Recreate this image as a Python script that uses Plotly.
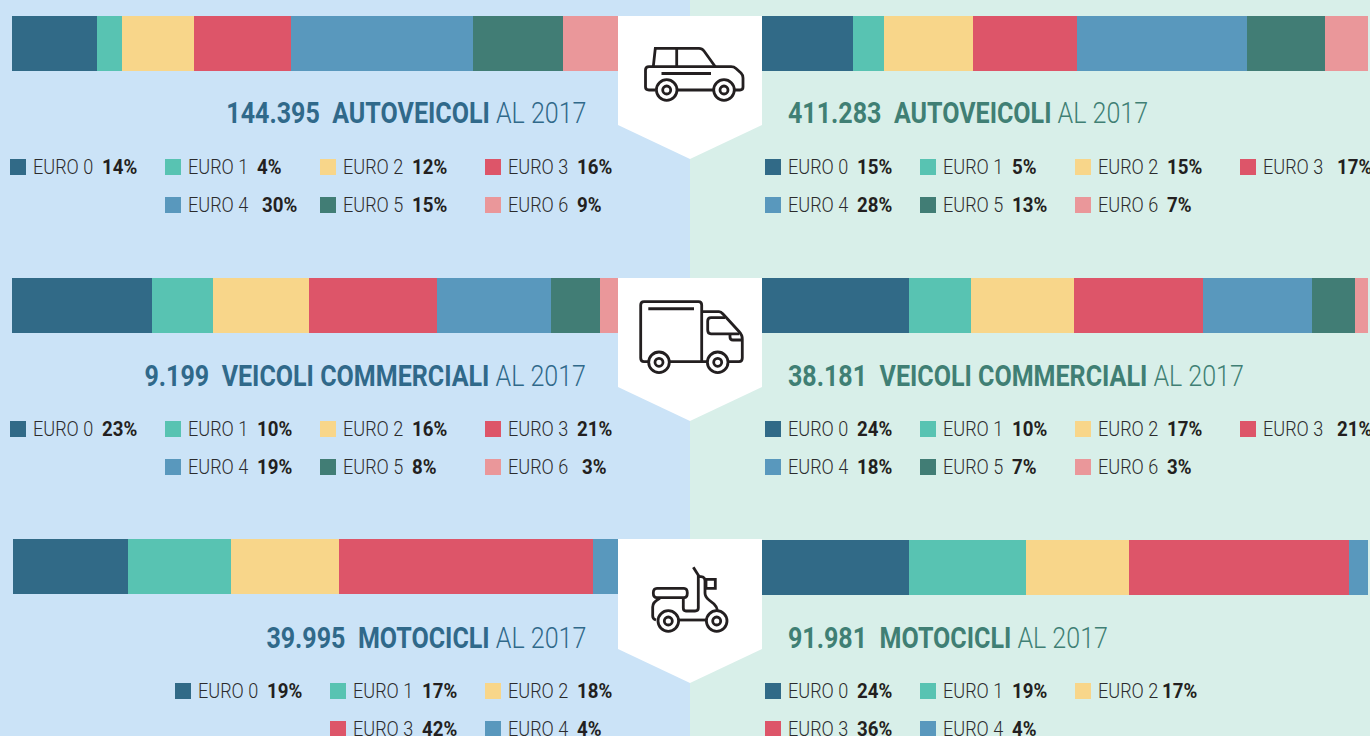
import re
import plotly.graph_objects as go

W, H = 1370, 736

# ---------- data ----------
EURO_CLASSES = ["EURO 0", "EURO 1", "EURO 2", "EURO 3", "EURO 4", "EURO 5", "EURO 6"]
# printed percentages
AUTO_LEFT = [14, 4, 12, 16, 30, 15, 9]
AUTO_RIGHT = [15, 5, 15, 17, 28, 13, 7]
COMM_LEFT = [23, 10, 16, 21, 19, 8, 3]
COMM_RIGHT = [24, 10, 17, 21, 18, 7, 3]
MOTO_LEFT = [19, 17, 18, 42, 4]
MOTO_RIGHT = [24, 19, 17, 36, 4]
# unrounded shares
AUTO_LEFT_BAR = [14.0, 4.1, 11.9, 16.0, 30.0, 14.9, 9.1]
AUTO_RIGHT_BAR = [15.0, 5.1, 14.7, 17.2, 28.05, 12.9, 7.05]
COMM_LEFT_BAR = [23.1, 10.07, 15.84, 21.1, 18.8, 8.1, 2.99]
COMM_RIGHT_BAR = [24.3, 10.2, 17.0, 21.3, 18.0, 7.1, 2.1]
MOTO_LEFT_BAR = [19.0, 17.0, 17.85, 42.0, 4.15]
MOTO_RIGHT_BAR = [24.3, 19.3, 17.0, 36.3, 3.1]
TOTALS_LEFT = ["144.395", "9.199", "39.995"]
TOTALS_RIGHT = ["411.283", "38.181", "91.981"]
VEHICLES = ["AUTOVEICOLI", "VEICOLI COMMERCIALI", "MOTOCICLI"]
YEAR_LABEL = "AL 2017"

# ---------- styling ----------
COLORS = ["#316a87", "#58c3b2", "#f8d68a", "#dd5569", "#5998bd", "#417d75", "#ea979a"]
BG_LEFT, BG_RIGHT = "#cbe3f7", "#d8efe9"
FONT = "Roboto"
INK = "#231f20"
SW = 2.8

def fx(x): return x / W
def fy(y): return 1 - y / H

def rect(x0, y0, x1, y1, color, layer="below"):
    return dict(type="rect", xref="paper", yref="paper", x0=fx(x0), x1=fx(x1), y0=fy(y0), y1=fy(y1),
                fillcolor=color, line_width=0, layer=layer)

def path(d, color=None, width=SW, fill=None, layer="above"):
    it = iter(re.findall(r"[A-Z]|-?\d+\.?\d*", d))
    out = []
    for tok in it:
        if tok.isalpha():
            out.append(tok)
        else:
            out.append(f"{fx(float(tok)):.5f},{fy(float(next(it))):.5f}")
    s = dict(type="path", xref="paper", yref="paper", path=" ".join(out), layer=layer)
    s["line"] = dict(color=color, width=width) if color else dict(width=0)
    if fill:
        s["fillcolor"] = fill
    return s

def circle(cx, cy, r, width=SW):
    return dict(type="circle", xref="paper", yref="paper", x0=fx(cx - r), x1=fx(cx + r), y0=fy(cy + r), y1=fy(cy - r),
                line=dict(color=INK, width=width), fillcolor="white", layer="above")

def wheel(cx, cy):
    return [circle(cx, cy, 10.3), circle(cx, cy, 4)]

shapes = [rect(0, 0, 690, H, BG_LEFT), rect(690, 0, W, H, BG_RIGHT)]
for top, shoulder, tip in [(16, 125, 159), (278, 387, 421), (539, 649, 683)]:
    shapes.append(path(f"M 618 {top} L 762 {top} L 762 {shoulder} L 690 {tip} L 618 {shoulder} Z", fill="white", layer="below"))

# car icon
shapes += [
    path("M 655 90 L 649 90 Q 645.5 90 645.5 87 L 645.5 70 Q 645.5 66.7 649 66.7 L 731 66.7 Q 734 66.7 736 68.5 L 741 73 Q 743 75 743 78 L 743 87 Q 743 90 740 90 L 735 90", INK),
    path("M 678 90 L 713 90", INK),
    path("M 653.3 66.7 L 655.3 48.3 L 699 48.3 Q 702 48.3 704 51 L 715.3 66.7", INK),
    path("M 676.7 48.3 L 676.7 66.7", INK),
    path("M 661.5 73.4 L 711 73.4", INK, 3),
] + wheel(666.7, 90) + wheel(724, 90)

# truck icon
shapes += [
    path("M 648 361.7 L 644 361.7 Q 640.7 361.7 640.7 358 L 640.7 305 Q 640.7 301.7 644 301.7 L 698.5 301.7 Q 701.7 301.7 701.7 305 L 701.7 361.7", INK),
    path("M 648.3 308.7 L 694 308.7", INK, 3),
    path("M 670 361.7 L 707 361.7", INK),
    path("M 701.7 311.7 L 719 311.7 Q 721 311.7 723 314 L 739 331.5 Q 742.3 335 742.3 339 L 742.3 358 Q 742.3 361.7 739 361.7 L 729 361.7", INK),
    path("M 739 333.8 L 711 333.8 Q 707.7 333.8 707.7 330 L 707.7 321 Q 707.7 317.7 711 317.7 L 725 317.7", INK),
    path("M 730 334 L 730 337 Q 730 340 733 340 L 742 340", INK),
] + wheel(659, 362.3) + wheel(717.7, 362.3)

# scooter icon
shapes += [
    path("M 693.3 567.3 L 699.3 576.7", INK),
    path("M 657 588.3 L 684 588.3 Q 687.3 588.3 687.3 593 Q 687.3 597.7 684 597.7 L 657 597.7 Q 653.3 597.7 653.3 593 Q 653.3 588.3 657 588.3 Z", INK),
    path("M 683.3 598 L 683.3 608 Q 683.3 611 686 611 L 695 611 Q 698.3 611 698.3 608 L 698.3 576.7 L 701 576.7 Q 705 577 705 581 L 705 593 Q 705 597 709 600 L 714 604 Q 717 607 717.3 610", INK),
    path("M 706 579.3 L 715.3 579.3 L 715.3 588.3 L 706 588.3 Z", INK),
    path("M 660 598.3 Q 652.7 602 652.7 607 L 652.7 616 Q 652.7 619 656 620", INK),
    path("M 679 620 L 706 620", INK),
] + wheel(668.3, 621) + wheel(716.7, 621)

annotations = []

def text(x, y, s, size, color, anchor="left", weight=400):
    annotations.append(dict(xref="paper", yref="paper", x=fx(x), y=fy(y), text=s, showarrow=False,
                            xanchor=anchor, yanchor="middle", align=anchor, borderpad=0,
                            font=dict(family=FONT, size=size, color=color, weight=weight)))

fig = go.Figure()

BLOCKS = [
    dict(values=AUTO_LEFT_BAR, x0=12, x1=618, bar_y=16, title=(0, 0, 587, 113, "right", "#30698a")),
    dict(values=AUTO_RIGHT_BAR, x0=762, x1=1368, bar_y=16, title=(1, 0, 787, 113, "left", "#407f74")),
    dict(values=COMM_LEFT_BAR, x0=12, x1=618, bar_y=278, title=(0, 1, 587, 375, "right", "#30698a")),
    dict(values=COMM_RIGHT_BAR, x0=762, x1=1368, bar_y=278, title=(1, 1, 787, 375, "left", "#407f74")),
    dict(values=MOTO_LEFT_BAR, x0=13, x1=618, bar_y=539, title=(0, 2, 587, 637, "right", "#30698a")),
    dict(values=MOTO_RIGHT_BAR, x0=762, x1=1368, bar_y=540, title=(1, 2, 787, 637, "left", "#407f74")),
]

BAR_H = 55
for i, b in enumerate(BLOCKS):
    n = "" if i == 0 else str(i + 1)
    for k, v in enumerate(b["values"]):
        fig.add_trace(go.Bar(x=[v], y=[0], orientation="h", name=EURO_CLASSES[k], marker=dict(color=COLORS[k], line_width=0),
                             xaxis=f"x{n}", yaxis=f"y{n}", showlegend=False, hoverinfo="x+name"))
    fig.layout[f"xaxis{n}"] = dict(domain=[fx(b["x0"]), fx(b["x1"])], range=[0, sum(b["values"])], visible=False, anchor=f"y{n}", fixedrange=True)
    fig.layout[f"yaxis{n}"] = dict(domain=[fy(b["bar_y"] + BAR_H), fy(b["bar_y"])], range=[-0.5, 0.5], visible=False, anchor=f"x{n}", fixedrange=True)
    side, idx, tx, ty, anchor, col = b["title"]
    total = (TOTALS_RIGHT if side else TOTALS_LEFT)[idx]
    text(tx, ty, f"<b>{total}\u00a0\u00a0{VEHICLES[idx]}</b> {YEAR_LABEL}", 30, col, anchor, 300)

def legend_rows(values, entries, y):
    for k, sx, px in entries:
        shapes.append(rect(sx, y - 8, sx + 16, y + 8, COLORS[k]))
        text(sx + 22, y, EURO_CLASSES[k], 21, "#2b2b2d", "left", 300)
        text(px - 1, y, f"<b>{values[k]}%</b>", 21, INK)

legend_rows(AUTO_LEFT, [(0, 10, 102), (1, 165, 257), (2, 320, 412), (3, 485, 577)], 167)
legend_rows(AUTO_LEFT, [(4, 165, 262), (5, 320, 412), (6, 485, 577)], 205)
legend_rows(AUTO_RIGHT, [(0, 765, 857), (1, 920, 1012), (2, 1075, 1167), (3, 1240, 1337)], 167)
legend_rows(AUTO_RIGHT, [(4, 765, 857), (5, 920, 1012), (6, 1075, 1167)], 205)
legend_rows(COMM_LEFT, [(0, 10, 102), (1, 165, 257), (2, 320, 412), (3, 485, 577)], 429)
legend_rows(COMM_LEFT, [(4, 165, 257), (5, 320, 412), (6, 485, 582)], 467)
legend_rows(COMM_RIGHT, [(0, 765, 857), (1, 920, 1012), (2, 1075, 1167), (3, 1240, 1337)], 429)
legend_rows(COMM_RIGHT, [(4, 765, 857), (5, 920, 1012), (6, 1075, 1167)], 467)
legend_rows(MOTO_LEFT, [(0, 175, 267), (1, 330, 422), (2, 485, 577)], 691)
legend_rows(MOTO_LEFT, [(3, 330, 422), (4, 485, 577)], 729)
legend_rows(MOTO_RIGHT, [(0, 765, 857), (1, 920, 1012), (2, 1075, 1162)], 691)
legend_rows(MOTO_RIGHT, [(3, 765, 857), (4, 920, 1012)], 729)

fig.update_layout(width=W, height=H, margin=dict(l=0, r=0, t=0, b=0), barmode="stack", bargap=0,
                  paper_bgcolor="white", plot_bgcolor="rgba(0,0,0,0)", showlegend=False,
                  shapes=shapes, annotations=annotations)

# the reference uses a condensed face: narrow the installed Roboto horizontally, about each text's anchor side
CONDENSE = """
document.body.style.margin='0';document.body.style.overflow='hidden';
document.querySelectorAll('.annotation-text').forEach(function(t){
  var b=t.getBBox();
  var end=t.getAttribute('text-anchor')==='end'||t.style.textAnchor==='end';
  var cx=end?b.x+b.width:b.x;
  var c=t.textContent;
  var s=/^\\d+%$/.test(c)?0.89:(parseFloat(t.style.fontSize)>24?0.835:0.86);
  t.setAttribute('transform','translate('+cx+',0) scale('+s+',1) translate('+(-cx)+',0)');
});
"""
fig.write_html("out.html", config=dict(displayModeBar=False), post_script=CONDENSE)
